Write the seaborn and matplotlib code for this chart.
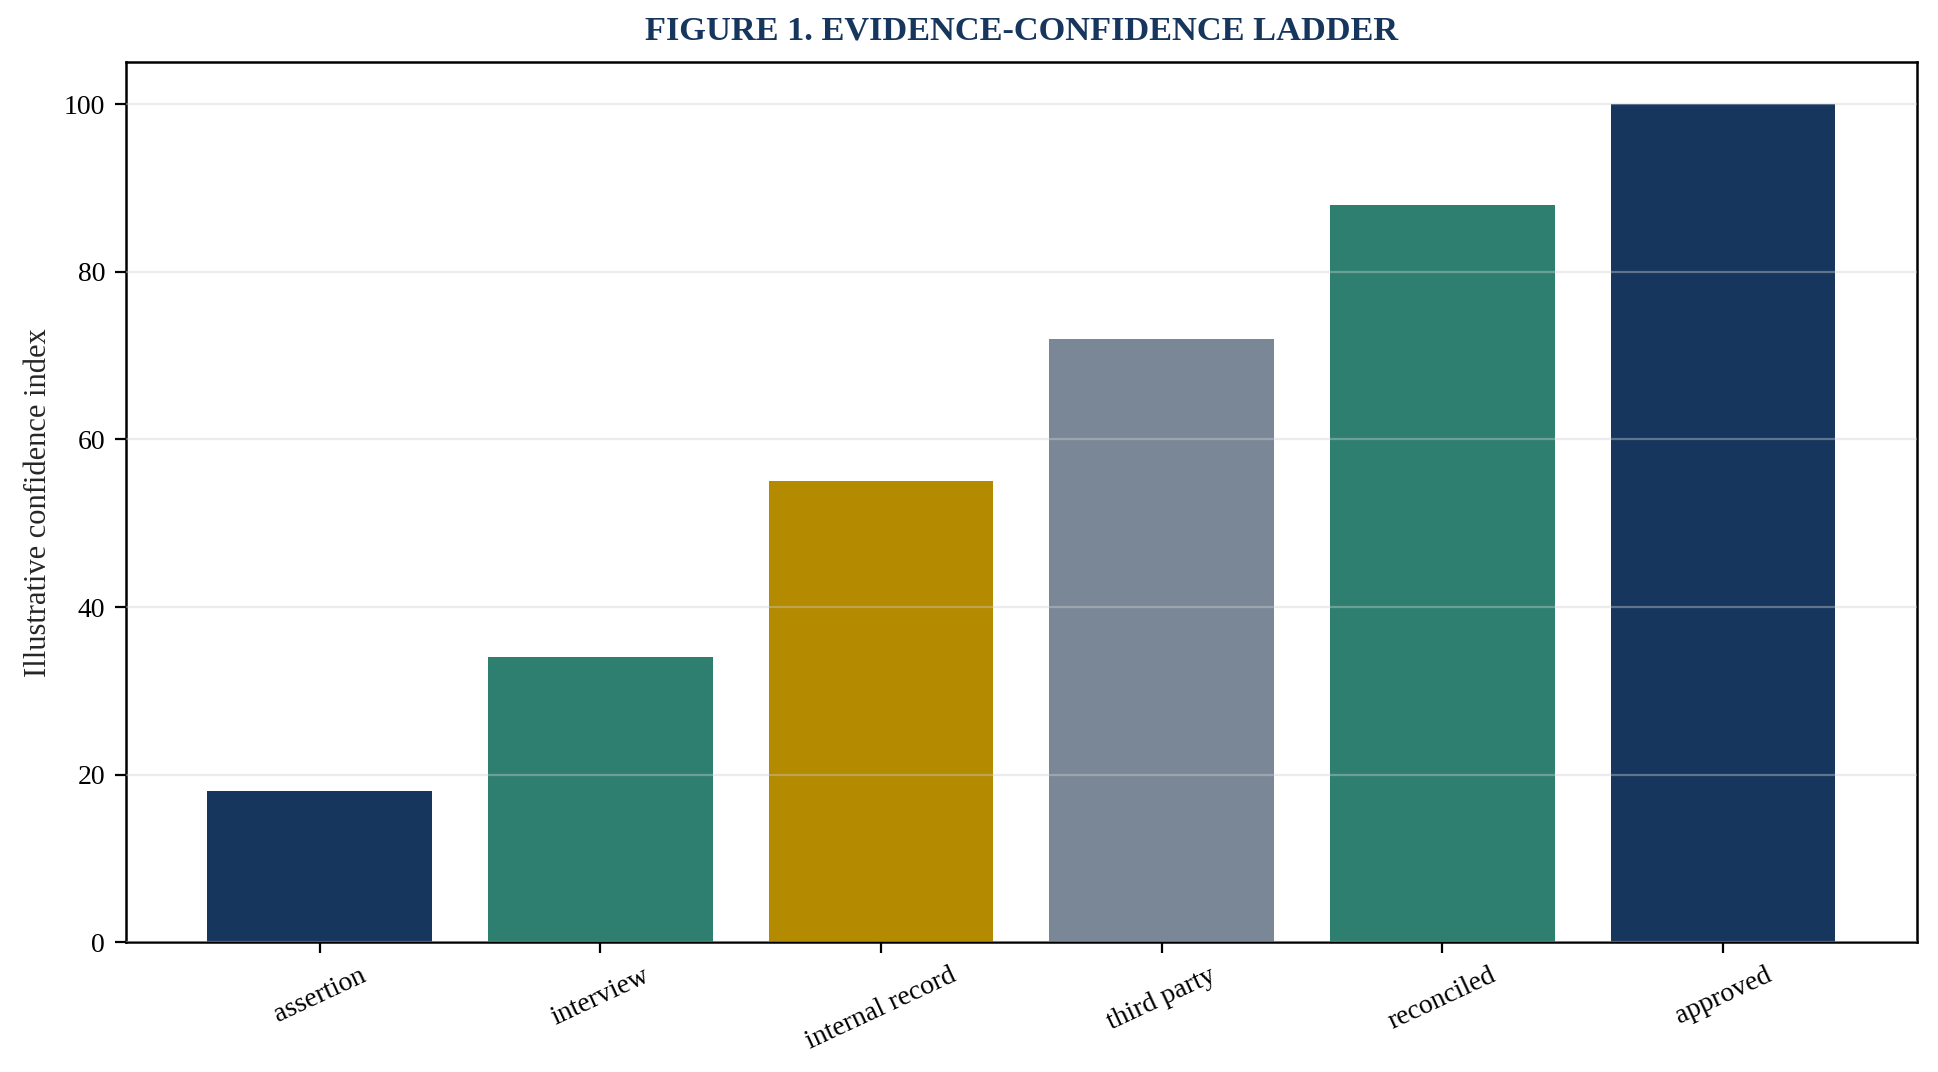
import matplotlib
matplotlib.use("Agg")
import matplotlib.pyplot as plt
import seaborn as sns
import pandas as pd

categories = ["assertion", "interview", "internal record", "third party", "reconciled", "approved"]
values = [18, 34, 55, 72, 88, 100]
bar_colors = ["#17365D", "#2E7F6F", "#B38A00", "#7A8797", "#2E7F6F", "#17365D"]

sns.set_theme(style="white")
plt.rcParams["font.family"] = ["Liberation Serif", "DejaVu Serif"]

df = pd.DataFrame({"category": categories, "value": values})

fig = plt.figure(figsize=(9.69, 5.36), dpi=200)
ax = fig.add_axes([0.065, 0.121, 0.924, 0.821])
sns.barplot(data=df, x="category", y="value", hue="category", palette=bar_colors,
            legend=False, ax=ax, width=0.8, saturation=1, linewidth=0)

ax.set_axisbelow(False)
ax.yaxis.grid(True, color="#d0d0d0", alpha=0.4, linewidth=0.8)
ax.xaxis.grid(False)
for s in ax.spines.values():
    s.set_visible(True)
    s.set_color("black")
    s.set_linewidth(0.9)
ax.tick_params(axis="both", which="both", direction="out", length=4, width=0.8,
               colors="black", labelsize=10, bottom=True, left=True)
ax.set_xlabel("")
ax.set_ylabel("Illustrative confidence index", fontsize=11)
ax.set_xlim(-0.69, 5.69)
ax.set_ylim(0, 105)
ax.set_yticks([0, 20, 40, 60, 80, 100])
plt.setp(ax.get_xticklabels(), rotation=25)
ax.set_title("FIGURE 1. EVIDENCE-CONFIDENCE LADDER", fontsize=12.4, fontweight="bold",
             color="#17365D", pad=8)

fig.savefig("out.png", dpi=200)
